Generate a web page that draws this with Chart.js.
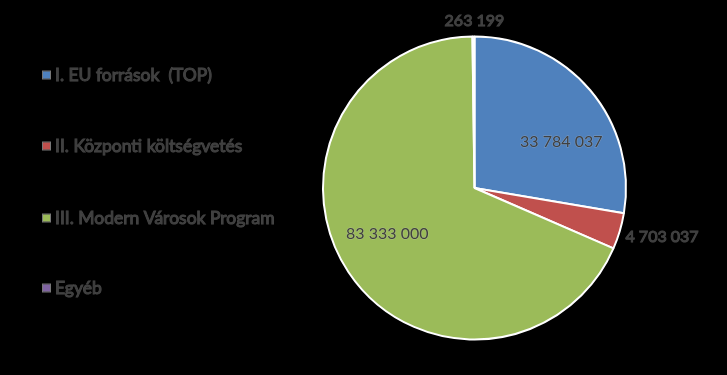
<!DOCTYPE html>
<html>
<head>
<meta charset="utf-8">
<script src="https://cdn.jsdelivr.net/npm/chart.js@4/dist/chart.umd.min.js"></script>
<style>
  html, body { margin: 0; padding: 0; background: #000; }
  #wrap { width: 727px; height: 375px; position: relative; }
</style>
</head>
<body>
<div id="wrap"><canvas id="kor"></canvas></div>
<script>
var kategoriak = ['I. EU források  (TOP)', 'II. Központi költségvetés', 'III. Modern Városok Program', 'Egyéb'];
var ertekek = [33784037, 4703037, 83333000, 263199];
var szinek = ['#4F81BD', '#C0504D', '#9BBB59', '#8064A2'];
var cimkeHely = ['inside', 'outside', 'inside', 'outside'];

function szamFormat(n) {
  return String(n).replace(/\B(?=(\d{3})+(?!\d))/g, ' ');
}

function irjSzoveget(ctx, txt, x, y) {
  ctx.lineWidth = 1;
  ctx.strokeStyle = 'rgba(200,200,200,0.35)';
  ctx.strokeText(txt, x, y);
  ctx.fillStyle = '#404040';
  ctx.fillText(txt, x, y);
}

// cimkek a szeletekre
var cimkePlugin = {
  id: 'cimkek',
  afterDatasetsDraw: function (chart) {
    var ctx = chart.ctx;
    var meta = chart.getDatasetMeta(0);
    var eltolas = [12, 0, 6, 0];
    ctx.save();
    ctx.font = '16px Lato';
    ctx.textBaseline = 'middle';
    meta.data.forEach(function (arc, i) {
      var p = arc.getProps(['x', 'y', 'startAngle', 'endAngle', 'outerRadius']);
      var mid = (p.startAngle + p.endAngle) / 2;
      var txt = szamFormat(ertekek[i]);
      if (cimkeHely[i] === 'inside') {
        var a = mid + eltolas[i] * Math.PI / 180;
        var r = p.outerRadius * 0.65;
        ctx.textAlign = 'center';
        irjSzoveget(ctx, txt, p.x + Math.cos(a) * r, p.y + Math.sin(a) * r);
      } else {
        var cx = Math.cos(mid), sy = Math.sin(mid);
        if (Math.abs(cx) < 0.2) {
          ctx.textAlign = 'center';
          irjSzoveget(ctx, txt, p.x + cx * p.outerRadius + 1, p.y + sy * (p.outerRadius + 16));
        } else {
          ctx.textAlign = cx > 0 ? 'left' : 'right';
          var r2 = p.outerRadius + 6;
          irjSzoveget(ctx, txt, p.x + cx * r2, p.y + sy * r2 + 4);
        }
      }
    });
    ctx.restore();
  }
};

// jelmagyarazat bal oldalon
var jelmagyPlugin = {
  id: 'jelmagy',
  afterDraw: function (chart) {
    var ctx = chart.ctx;
    var sorok = [75, 146, 218, 288];
    ctx.save();
    ctx.font = '17.5px Lato';
    ctx.textBaseline = 'middle';
    ctx.textAlign = 'left';
    chart.data.labels.forEach(function (lbl, i) {
      var y = sorok[i];
      ctx.fillStyle = szinek[i];
      ctx.fillRect(43, y - 3.5, 7, 7);
      ctx.strokeStyle = 'rgba(200,200,200,0.6)';
      ctx.lineWidth = 1;
      ctx.strokeRect(42.5, y - 4, 8, 8);
      irjSzoveget(ctx, lbl, 55, y);
    });
    ctx.restore();
  }
};

new Chart(document.getElementById('kor'), {
  type: 'pie',
  data: {
    labels: kategoriak,
    datasets: [{
      data: ertekek,
      backgroundColor: szinek,
      borderColor: '#ffffff',
      borderWidth: 2
    }]
  },
  options: {
    responsive: true,
    maintainAspectRatio: false,
    animation: false,
    layout: { padding: { top: 35, bottom: 34, left: 322, right: 100 } },
    plugins: {
      legend: { display: false },
      tooltip: { enabled: false }
    }
  },
  plugins: [cimkePlugin, jelmagyPlugin]
});
</script>
</body>
</html>
